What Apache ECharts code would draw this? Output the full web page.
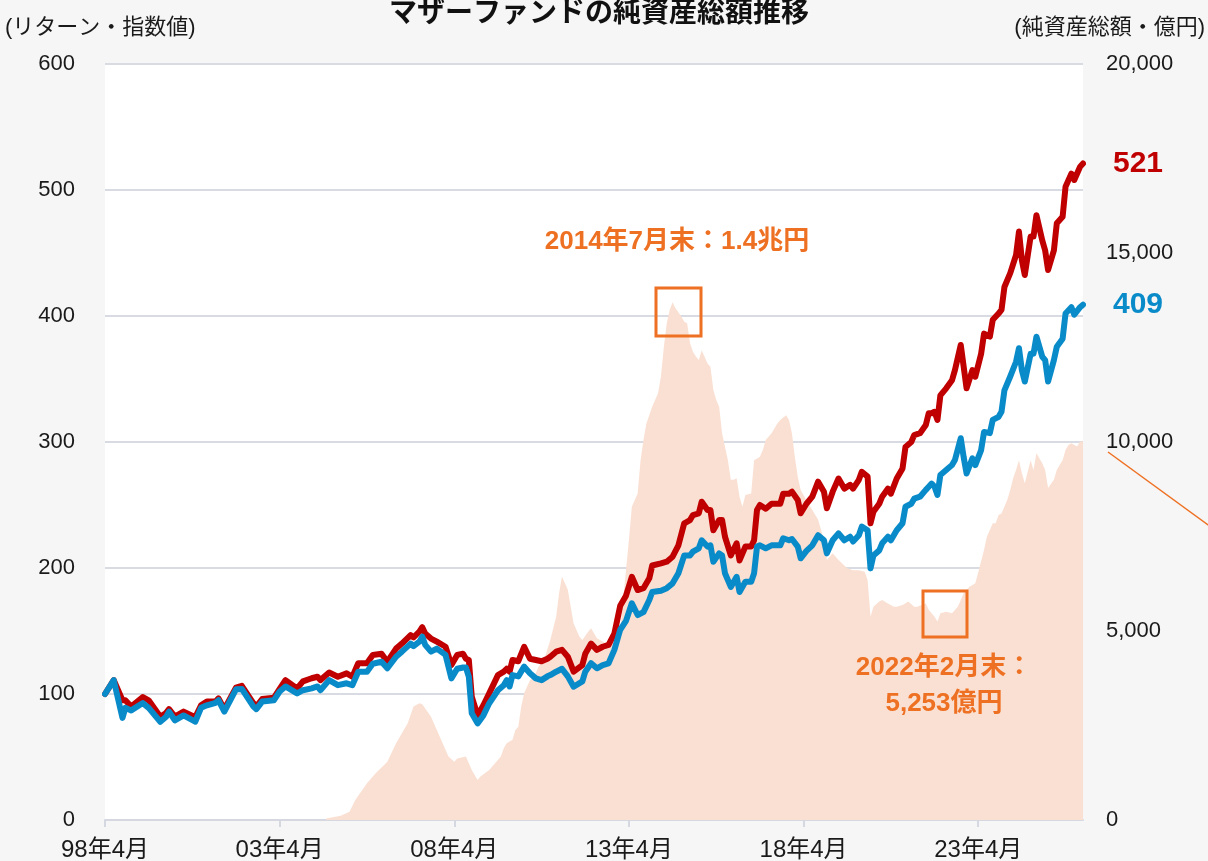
<!DOCTYPE html>
<html>
<head>
<meta charset="utf-8">
<script src="https://cdn.jsdelivr.net/npm/echarts@6/dist/echarts.min.js"></script>
<style>
html,body{margin:0;padding:0;background:#f6f6f6;}
#c{width:1208px;height:861px;}
</style>
</head>
<body>
<div id="c"></div>
<script>
// ---- data ----
const xTickLabels = ['98年4月','03年4月','08年4月','13年4月','18年4月','23年4月'];

const lineMonths = ['1998-04','1998-07','1998-10','1998-11','1999-01','1999-05','1999-07','1999-11','2000-01','2000-02','2000-04','2000-07','2000-11','2001-01','2001-03','2001-06','2001-07','2001-09','2002-01','2002-03','2002-07','2002-08','2002-10','2003-02','2003-04','2003-06','2003-10','2003-12','2004-03','2004-05','2004-06','2004-09','2004-12','2005-03','2005-05','2005-07','2005-10','2005-12','2006-03','2006-05','2006-08','2006-10','2007-01','2007-02','2007-04','2007-05','2007-06','2007-08','2007-10','2008-01','2008-03','2008-05','2008-07','2008-08','2008-09','2008-10','2008-12','2009-02','2009-04','2009-07','2009-09','2009-10','2009-11','2009-12','2010-02','2010-04','2010-06','2010-08','2010-10','2010-12','2011-01','2011-03','2011-05','2011-07','2011-09','2011-12','2012-01','2012-03','2012-05','2012-07','2012-09','2012-11','2013-01','2013-03','2013-05','2013-07','2013-09','2013-11','2013-12','2014-03','2014-05','2014-07','2014-09','2014-11','2015-01','2015-02','2015-04','2015-05','2015-07','2015-08','2015-09','2015-11','2015-12','2016-01','2016-03','2016-05','2016-06','2016-08','2016-10','2016-11','2016-12','2017-01','2017-03','2017-05','2017-08','2017-09','2017-11','2017-12','2018-02','2018-03','2018-05','2018-07','2018-09','2018-11','2018-12','2019-02','2019-04','2019-06','2019-08','2019-09','2019-11','2019-12','2020-02','2020-03','2020-04','2020-06','2020-07','2020-09','2020-10','2020-12','2021-02','2021-03','2021-05','2021-06','2021-08','2021-10','2021-11','2021-12','2022-01','2022-02','2022-03','2022-05','2022-07','2022-08','2022-10','2022-11','2022-12','2023-02','2023-03','2023-05','2023-06','2023-08','2023-09','2023-11','2023-12','2024-01','2024-03','2024-05','2024-06','2024-07','2024-08','2024-10','2024-11','2024-12','2025-02','2025-03','2025-04','2025-06','2025-07','2025-09','2025-10','2025-12','2026-01','2026-03','2026-04'];

const redValues = [100,111,95,95,90,97.6,95,82,85,88,82,86,81.5,91,94,94,96.5,88,105,106.5,92.6,90,96,97,104,111,104.5,110,112.5,113.7,111,117,113.7,116.4,113.7,124.4,124.4,131,132,125.6,136,140,146.8,145,149.5,153,148,144,141.5,137.5,123,131,132,128,127,98,83,91,100.5,115,117.7,120,117.7,127,126,137.5,128,127,126,128,129.6,133.6,135,129.6,117.7,123,132,140,135,137.5,139,148,170,178,193,182.5,184,191.8,202,203.7,205,209,218,235.5,238,242,243.4,252.6,246,246,230,238,238,224.8,210,219.6,206,217,217,222,246,250,247,251,251,259,259,260.6,254,243.4,251,256.6,268.5,260.6,247.4,260.6,271,263,266,263,270,276.4,272.5,235.5,244.7,251,256.6,263,259,271,279,296,300,305.5,307,313.5,322.8,322.8,324,317.5,337,342.6,349,357,377,359.8,342.6,357,351.8,370,386,383.6,397,402,404.8,423,434,448.4,467,444.4,432.5,463,463,480,460,452,436.5,452,473.6,478.8,502.6,513,508,518.5,521];

const blueValues = [100,111,81,89,87,92.8,89,78,82,86,79,83,78,89,91,93,95,86,103.7,104,90,88,94,95,102,106,100.5,103,104.5,106,103,111,107,108.5,107,117.7,117.7,124,125.6,120.4,129.6,133.6,140,138,141.5,145.5,139,133.6,136,131,112.4,120,121,121,113.7,84.7,76.7,83,92.6,103,107,111,106,115,114,121.7,116.4,112.4,111,114,115,117.7,120,114,105.8,110,117.7,124.4,120.4,123,124.4,135,151,158,172,162.7,165,174.6,181,182,184,187.8,195.8,210,210,213,215.6,222,217,218,205,211.6,210,195.8,185,193,181,189,189,195.8,217,218,215.6,218,218,223.6,222,223,217,207.7,213.6,218,226,222,211.6,222,227.5,222,224.8,221,226,232.8,230,199.7,210,214,219.6,224.8,222,230,235.5,248.6,251,255,256.6,262,264.5,267,264.5,258,273.8,277.8,281.7,285.7,303,288,275,287,281.7,293.6,308,307,317.5,320,324,341,352,363.7,374.4,357,348,370,370,383.6,367.7,365,348,365,375.6,382,402,407,401,407,409];

const assetMonths = ['2004-08','2005-01','2005-04','2005-06','2005-10','2006-01','2006-05','2006-08','2006-12','2007-02','2007-04','2007-05','2007-08','2007-10','2007-12','2008-02','2008-04','2008-05','2008-08','2008-10','2008-12','2009-01','2009-04','2009-06','2009-08','2009-09','2009-10','2009-12','2010-01','2010-02','2010-03','2010-04','2010-06','2010-08','2010-09','2010-11','2011-01','2011-03','2011-04','2011-05','2011-07','2011-08','2011-09','2011-11','2011-12','2012-02','2012-03','2012-05','2012-07','2012-08','2012-11','2013-01','2013-02','2013-04','2013-05','2013-07','2013-08','2013-09','2013-10','2013-12','2014-02','2014-03','2014-04','2014-05','2014-06','2014-07','2014-08','2014-10','2014-11','2014-12','2015-01','2015-02','2015-03','2015-04','2015-05','2015-07','2015-08','2015-09','2015-10','2015-11','2015-12','2016-02','2016-03','2016-04','2016-05','2016-06','2016-07','2016-08','2016-10','2016-11','2017-01','2017-02','2017-03','2017-05','2017-07','2017-08','2017-10','2017-11','2017-12','2018-01','2018-02','2018-03','2018-05','2018-07','2018-09','2018-11','2018-12','2019-02','2019-04','2019-07','2019-09','2019-11','2020-01','2020-02','2020-03','2020-04','2020-06','2020-07','2020-09','2020-11','2020-12','2021-02','2021-04','2021-06','2021-07','2021-10','2021-11','2022-01','2022-02','2022-03','2022-05','2022-07','2022-09','2022-10','2022-11','2023-01','2023-03','2023-04','2023-06','2023-07','2023-08','2023-09','2023-10','2023-11','2023-12','2024-02','2024-03','2024-04','2024-05','2024-06','2024-07','2024-08','2024-10','2024-11','2024-12','2025-01','2025-02','2025-03','2025-04','2025-06','2025-07','2025-08','2025-09','2025-10','2025-11','2025-12','2026-02','2026-03','2026-04'];

const assetValues = [40,110,220,530,970,1240,1540,2030,2560,3000,3090,3060,2730,2380,2030,1680,1540,1630,1680,1320,1060,1150,1320,1500,1680,1900,2030,2120,2380,2470,3000,3350,3700,3880,4060,4280,4760,5380,6000,6440,6090,5640,5200,4850,4760,4980,5070,4810,4720,4670,4760,5030,5820,7410,8290,8640,9520,10050,10490,10930,11290,11730,12520,13140,13490,13700,13540,13320,13180,13140,12610,12390,12260,12170,12430,12080,11990,11380,11110,10930,10230,9520,9000,9000,9040,8550,8290,8600,8640,9520,9610,9790,10050,10230,10490,10580,10710,10580,10230,9610,9080,8730,8450,8200,7940,7410,6880,7060,6880,6660,6610,6610,6570,6350,5380,5640,5780,5820,5730,5640,5640,5690,5780,5640,5640,5730,5560,5380,5253,5470,5510,5470,5640,5820,6000,6170,6260,6550,7140,7500,7670,7850,7850,8070,8110,8470,8730,9040,9260,9520,9170,8910,9520,9260,9700,9570,9440,9260,8780,9000,9260,9390,9520,9790,9920,9970,9880,10010,10010];

const leftTicks = [0,100,200,300,400,500,600];
const rightTicks = [0,5000,10000,15000,20000];

// ---- helpers ----
function monthIndex(s){ const p = s.split('-').map(Number); return (p[0]-1998)*12 + (p[1]-4); }
const xTickValues = xTickLabels.map((_, i) => i*60);
const FONT = '"Liberation Sans", "Noto Sans CJK JP", sans-serif';
const ORANGE = '#ee7022';
const RED = '#c00000';
const BLUE = '#0a8bc9';

const redData = lineMonths.map((m,i)=>[monthIndex(m), redValues[i]]);
const blueData = lineMonths.map((m,i)=>[monthIndex(m), blueValues[i]]);
const assetData = assetMonths.map((m,i)=>[monthIndex(m), assetValues[i]]);

const chart = echarts.init(document.getElementById('c'), null, {renderer:'canvas'});
chart.setOption({
  animation:false,
  backgroundColor:'#f6f6f6',
  textStyle:{fontFamily:FONT},
  grid:{left:105,right:125,top:64,bottom:41,containLabel:false,outerBoundsMode:'none',
        show:true,backgroundColor:'#ffffff',borderWidth:0},
  xAxis:{
    type:'value', min:0, max:336, interval:60,
    axisLine:{show:true,lineStyle:{color:'#d5d8e0',width:2}},
    axisTick:{show:true,length:7,lineStyle:{color:'#d5d8e0',width:2},customValues:xTickValues},
    axisLabel:{customValues:xTickValues,margin:18,color:'#1a1a1a',fontSize:24,fontFamily:FONT,
      formatter:(v)=>{ const i = Math.round(v/60); return xTickLabels[i] || ''; }},
    splitLine:{show:false}
  },
  yAxis:[
    {type:'value',min:leftTicks[0],max:leftTicks[leftTicks.length-1],interval:100,
     axisLine:{show:false},axisTick:{show:false},
     axisLabel:{margin:30,color:'#1a1a1a',fontSize:22,fontFamily:FONT},
     splitLine:{show:true,lineStyle:{color:'#d9dbe3',width:2}}},
    {type:'value',min:rightTicks[0],max:rightTicks[rightTicks.length-1],interval:5000,
     axisLine:{show:false},axisTick:{show:false},
     axisLabel:{margin:23,color:'#1a1a1a',fontSize:22,fontFamily:FONT,
       formatter:(v)=>v.toLocaleString('en-US')},
     splitLine:{show:false}}
  ],
  series:[
    {name:'純資産総額',type:'line',yAxisIndex:1,data:assetData,symbol:'none',
     lineStyle:{width:0},areaStyle:{color:'#fae0d2',opacity:1},z:1},
    {name:'red',type:'line',yAxisIndex:0,data:redData,symbol:'none',
     lineStyle:{color:RED,width:6,join:'round',cap:'round'},z:3,
     endLabel:{show:true,distance:30,color:RED,fontSize:30,fontWeight:'bold',fontFamily:FONT,
       formatter:(p)=>String(Math.round(p.value[1]))}},
    {name:'blue',type:'line',yAxisIndex:0,data:blueData,symbol:'none',
     lineStyle:{color:BLUE,width:6,join:'round',cap:'round'},z:4,
     endLabel:{show:true,distance:30,color:BLUE,fontSize:30,fontWeight:'bold',fontFamily:FONT,
       formatter:(p)=>String(Math.round(p.value[1]))}}
  ],
  graphic:[
    {type:'text',x:599,y:14,z:100,style:{text:'マザーファンドの純資産総額推移',fill:'#111',
      font:'bold 28px '+FONT,align:'center',verticalAlign:'middle'}},
    {type:'text',x:5,y:28,z:100,style:{text:'(リターン・指数値)',fill:'#1a1a1a',
      font:'22px '+FONT,align:'left',verticalAlign:'middle'}},
    {type:'text',x:1205,y:28,z:100,style:{text:'(純資産総額・億円)',fill:'#1a1a1a',
      font:'22px '+FONT,align:'right',verticalAlign:'middle'}},
    {type:'text',x:677,y:242,z:100,style:{text:'2014年7月末：1.4兆円',fill:ORANGE,
      font:'bold 26px '+FONT,align:'center',verticalAlign:'middle'}},
    {type:'text',x:944,y:668,z:100,style:{text:'2022年2月末：',fill:ORANGE,
      font:'bold 26px '+FONT,align:'center',verticalAlign:'middle'}},
    {type:'text',x:944,y:704,z:100,style:{text:'5,253億円',fill:ORANGE,
      font:'bold 26px '+FONT,align:'center',verticalAlign:'middle'}},
    {type:'rect',z:100,shape:{x:656,y:288,width:45,height:48},
      style:{fill:'none',stroke:ORANGE,lineWidth:3}},
    {type:'rect',z:100,shape:{x:923,y:591,width:44,height:46},
      style:{fill:'none',stroke:ORANGE,lineWidth:3}},
    {type:'line',z:100,shape:{x1:1108,y1:452,x2:1215,y2:530},
      style:{stroke:ORANGE,lineWidth:1.5}}
  ]
});
</script>
</body>
</html>
